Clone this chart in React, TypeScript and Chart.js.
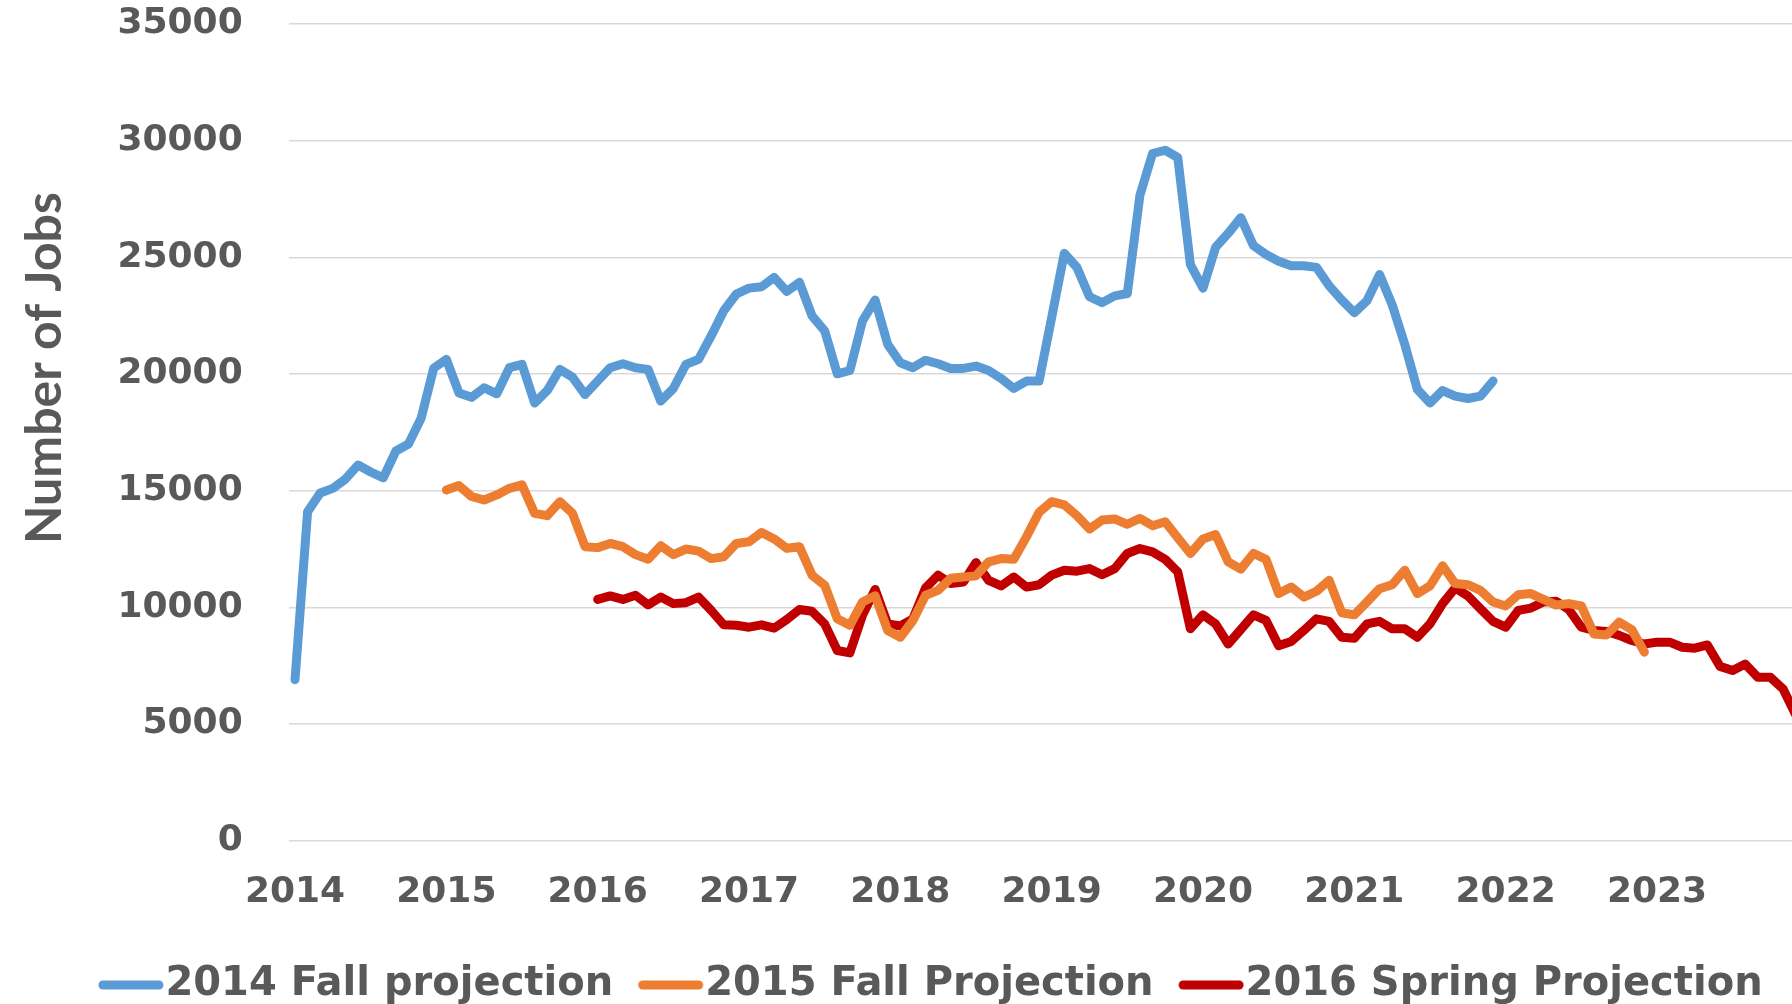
import React, { useEffect, useRef } from "react";
import { Chart, registerables } from "chart.js";

Chart.register(...registerables);

const years = ["2014", "2015", "2016", "2017", "2018", "2019", "2020", "2021", "2022", "2023"];
const months = ["01", "02", "03", "04", "05", "06", "07", "08", "09", "10", "11", "12"];
const categories: string[] = [];
years.forEach((y) => months.forEach((m) => categories.push(`${y}-${m}`)));

const seriesNames = ["2014 Fall projection", "2015 Fall Projection", "2016 Spring Projection"];
const seriesColors = ["#5B9BD5", "#ED7D31", "#C00000"];

// 2014 Fall projection: Jan 2014 - Dec 2021
const fall2014 = [
  6900, 14100, 14900, 15100, 15500, 16100, 15800, 15550, 16700, 17000, 18100, 20250,
  20630, 19190, 19000, 19410, 19150, 20270, 20410, 18760, 19290, 20200, 19870, 19120,
  19700, 20270, 20440, 20270, 20200, 18840, 19380, 20410, 20630, 21630, 22710, 23430,
  23680, 23740, 24140, 23540, 23930, 22490, 21850, 20010, 20150, 22280, 23170, 21270,
  20480, 20270, 20590, 20440, 20240, 20240, 20340, 20150, 19810, 19380, 19700, 19700,
  22420, 25170, 24570, 23310, 23060, 23350, 23450, 27660, 29450, 29590, 29280, 24690,
  23680, 25430, 26030, 26700, 25500, 25120, 24830, 24640, 24640, 24570, 23780, 23170,
  22630, 23140, 24260, 22970, 21270, 19340, 18760, 19290, 19050, 18950, 19050, 19700,
];

// 2015 Fall Projection: Jan 2015 - Dec 2022
const fall2015 = [
  15030, 15220, 14750, 14600, 14820, 15100, 15250, 14030, 13930, 14530, 14030, 12600,
  12560, 12740, 12600, 12260, 12060, 12640, 12260, 12500, 12410, 12090, 12170, 12740,
  12810, 13210, 12930, 12530, 12600, 11380, 10950, 9510, 9230, 10230, 10500, 9010,
  8720, 9440, 10520, 10730, 11250, 11300, 11350, 11950, 12090, 12060, 13020, 14070,
  14530, 14390, 13930, 13360, 13740, 13790, 13560, 13810, 13500, 13670, 12980, 12310,
  12930, 13120, 11950, 11640, 12310, 12060, 10590, 10870, 10440, 10690, 11160, 9770,
  9680, 10230, 10800, 10970, 11590, 10590, 10920, 11780, 11020, 10970, 10730, 10230,
  10060, 10540, 10590, 10340, 10100, 10160, 10060, 8860, 8820, 9370, 9050, 8080,
];

// 2016 Spring Projection: Jan 2016 - Dec 2023
const spring2016 = [
  10340, 10490, 10340, 10520, 10110, 10440, 10160, 10200, 10440, 9870, 9250, 9230,
  9150, 9250, 9110, 9480, 9910, 9830, 9290, 8150, 8050, 9660, 10770, 9290,
  9200, 9510, 10830, 11380, 11020, 11090, 11920, 11160, 10920, 11300, 10870, 10970,
  11380, 11590, 11550, 11660, 11400, 11660, 12310, 12520, 12380, 12060, 11520, 9080,
  9680, 9290, 8430, 9050, 9680, 9440, 8360, 8540, 9010, 9510, 9400, 8720,
  8680, 9290, 9400, 9080, 9080, 8720, 9290, 10160, 10830, 10490, 9940, 9400,
  9150, 9870, 9970, 10230, 10260, 9910, 9150, 9010, 8970, 8800, 8580, 8430,
  8510, 8510, 8290, 8250, 8390, 7470, 7290, 7570, 7000, 7000, 6500, 5400,
];

const seriesStart = [0, 12, 24];
const seriesValues = [fall2014, fall2015, spring2016];

const yTicks = [0, 5000, 10000, 15000, 20000, 25000, 30000, 35000];
const yTitle = "Number of Jobs";

const TEXT = "#595959";
const TICK_FONT = "'DejaVu Sans', sans-serif";

function padSeries(start: number, vals: number[]): (number | null)[] {
  const out: (number | null)[] = categories.map(() => null);
  vals.forEach((v, i) => {
    if (start + i < out.length) out[start + i] = v;
  });
  return out;
}

// legend swatch: a short thick rounded line, offset so it ends just before the text
function makeSwatch(color: string): HTMLCanvasElement {
  const c = document.createElement("canvas");
  c.width = 130;
  c.height = 10;
  const g = c.getContext("2d");
  if (g) {
    g.strokeStyle = color;
    g.lineWidth = 9;
    g.lineCap = "round";
    g.beginPath();
    g.moveTo(41.5 + 4.5, 5);
    g.lineTo(106.5 - 4.5, 5);
    g.stroke();
  }
  return c;
}

const yTitlePlugin = {
  id: "yTitleCustom",
  afterDraw(chart: any) {
    const ctx = chart.ctx;
    ctx.save();
    ctx.translate(61, 368);
    ctx.rotate(-Math.PI / 2);
    ctx.font = "bold 50px Lato, 'Open Sans', sans-serif";
    ctx.fillStyle = TEXT;
    ctx.textAlign = "center";
    ctx.textBaseline = "alphabetic";
    ctx.fillText(yTitle, 0, 0);
    ctx.restore();
  },
};

export default function App() {
  const ref = useRef<HTMLCanvasElement | null>(null);

  useEffect(() => {
    if (!ref.current) return;
    const swatches = seriesColors.map(makeSwatch);
    const chart = new Chart(ref.current, {
      type: "line",
      data: {
        labels: categories,
        datasets: seriesNames.map((name, k) => ({
          label: name,
          data: padSeries(seriesStart[k], seriesValues[k]),
          borderColor: seriesColors[k],
          backgroundColor: seriesColors[k],
          borderWidth: 9,
          borderCapStyle: "round" as const,
          borderJoinStyle: "round" as const,
          pointRadius: 0,
          pointHoverRadius: 0,
          tension: 0,
          fill: false,
        })),
      },
      options: {
        animation: false,
        responsive: false,
        devicePixelRatio: 1,
        layout: { padding: { left: 59, right: 2, top: 24, bottom: 0 } },
        plugins: {
          tooltip: { enabled: false },
          legend: {
            position: "bottom",
            labels: {
              font: { family: TICK_FONT, size: 40, weight: "bold" },
              color: TEXT,
              usePointStyle: true,
              pointStyleWidth: 47,
              boxHeight: 9,
              padding: 25,
              generateLabels(c: any) {
                return c.data.datasets.map((ds: any, i: number) => ({
                  text: ds.label,
                  fillStyle: ds.borderColor,
                  strokeStyle: ds.borderColor,
                  lineWidth: 0,
                  pointStyle: swatches[i],
                  fontColor: TEXT,
                  hidden: false,
                  datasetIndex: i,
                }));
              },
            },
          },
        },
        scales: {
          x: {
            type: "category",
            offset: true,
            grid: { display: false, drawTicks: false },
            border: { display: false },
            afterFit(scale: any) {
              scale.height = 99.3;
              scale.paddingLeft = 0;
              scale.paddingRight = 0;
            },
            ticks: {
              autoSkip: false,
              maxRotation: 0,
              minRotation: 0,
              padding: 30,
              color: TEXT,
              font: { family: TICK_FONT, size: 36, weight: "bold" },
              callback(_v: any, index: number) {
                return index % 12 === 0 ? categories[index].slice(0, 4) : "";
              },
            },
          },
          y: {
            min: 0,
            max: 35000,
            afterFit(scale: any) {
              scale.width = 229.7;
              scale.paddingTop = 0;
              scale.paddingBottom = 0;
            },
            afterBuildTicks(scale: any) {
              scale.ticks = yTicks.map((v) => ({ value: v }));
            },
            grid: { color: "#D9D9D9", lineWidth: 1.5, drawTicks: false },
            border: { display: false },
            ticks: {
              padding: 46,
              color: TEXT,
              font: { family: TICK_FONT, size: 36, weight: "bold" },
              callback(v: any) {
                return String(v);
              },
            },
          },
        },
      },
      plugins: [yTitlePlugin],
    });
    return () => chart.destroy();
  }, []);

  return (
    <div
      style={{
        position: "fixed",
        left: 0,
        top: 0,
        width: 1792,
        height: 1004,
        overflow: "hidden",
        background: "#ffffff",
      }}
    >
      <canvas ref={ref} width={1804} height={1015} style={{ display: "block", width: 1804, height: 1015 }} />
    </div>
  );
}
